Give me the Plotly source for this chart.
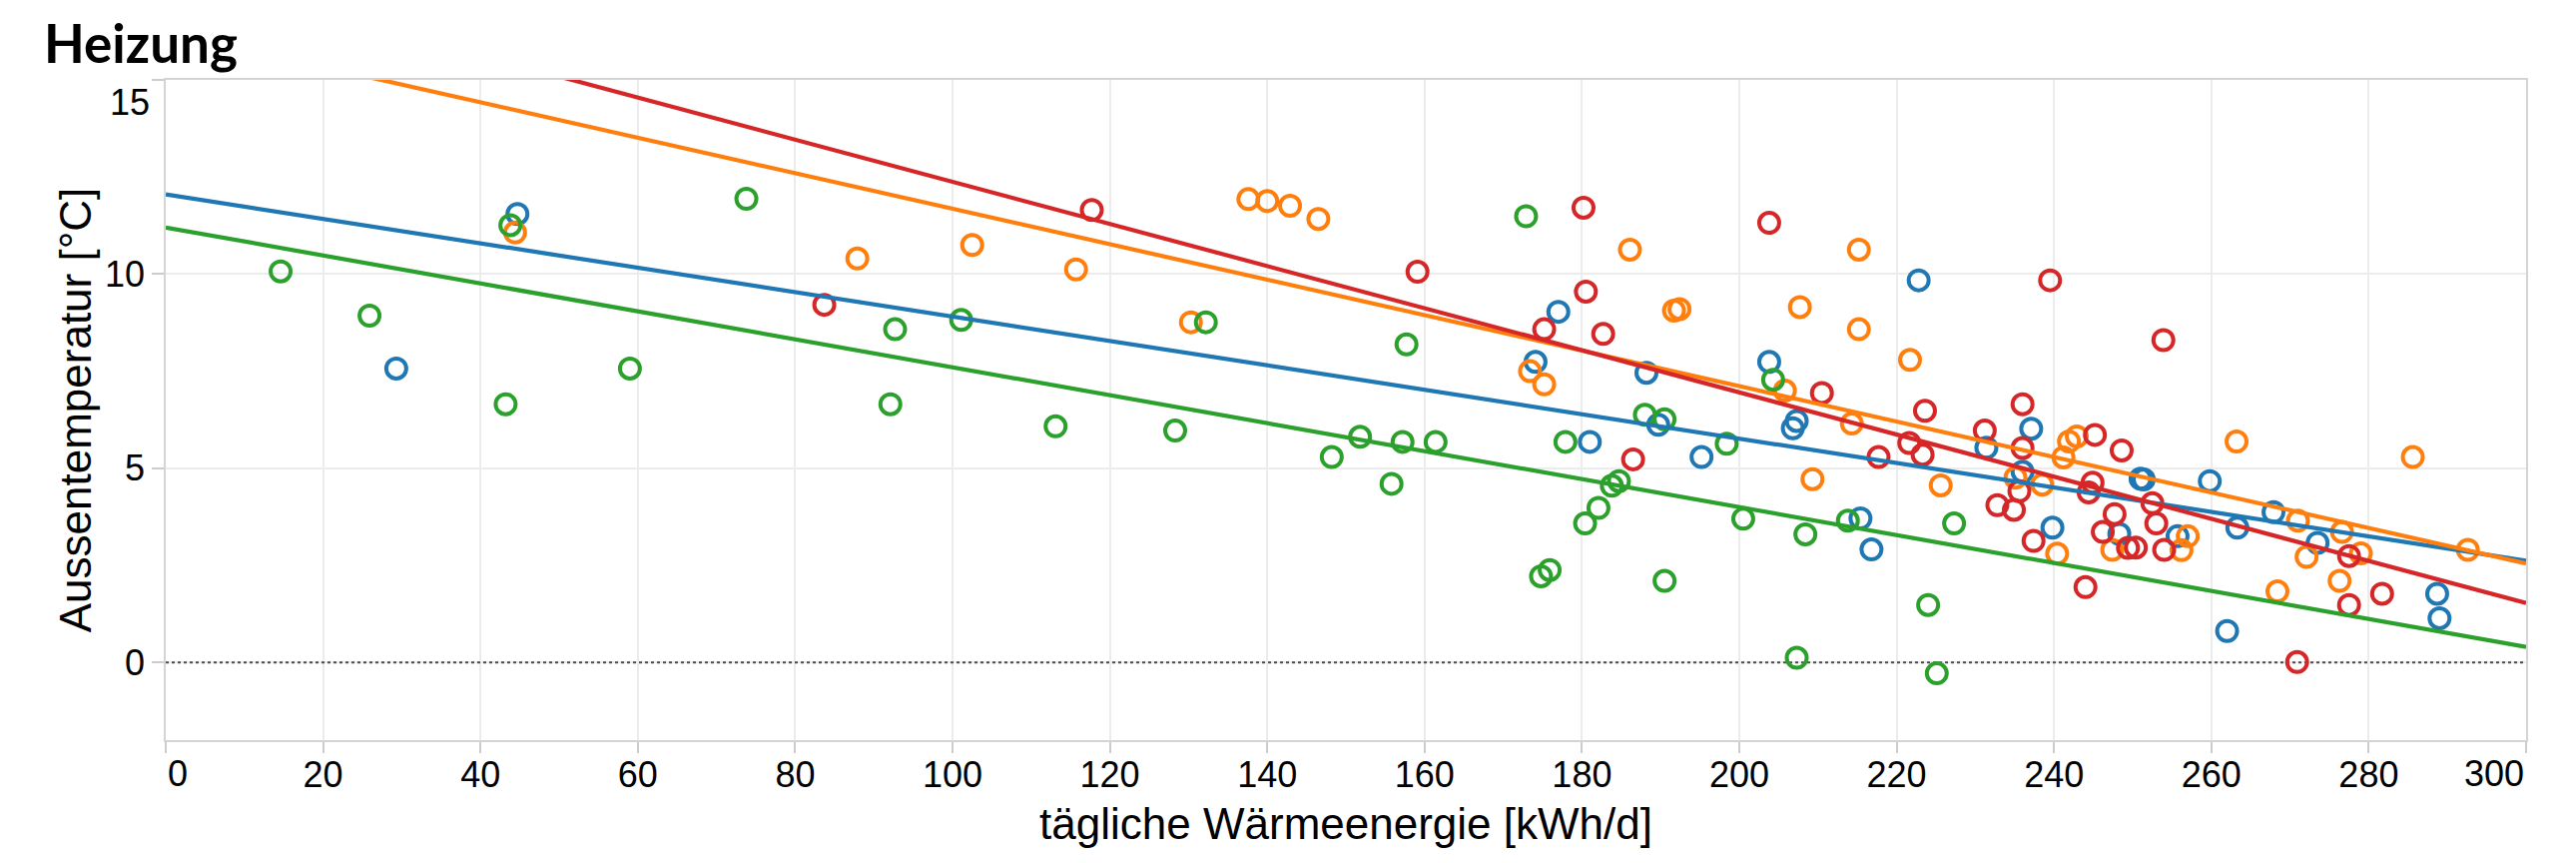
import plotly.graph_objects as go

# ---------------- data ----------------
blue_x = [29.3, 44.7, 174.1, 177.0, 181.0, 188.2, 189.7, 195.2, 203.8, 206.8, 207.3, 215.4, 216.8,
          222.8, 231.4, 236.0, 237.1, 239.8, 248.3, 251.0, 251.4, 255.7, 259.8, 262.0, 263.3, 267.9,
          273.5, 288.7, 289.0]
blue_y = [7.57, 11.55, 7.74, 9.03, 5.68, 7.46, 6.12, 5.29, 7.74, 6.03, 6.22, 3.71, 2.91,
          9.84, 5.53, 4.91, 6.02, 3.47, 3.31, 4.73, 4.71, 3.25, 4.67, 0.81, 3.47, 3.87,
          3.08, 1.77, 1.14]

orange_x = [44.4, 87.9, 102.5, 115.7, 130.3, 137.6, 140.0, 142.9, 146.5, 173.4, 175.2, 186.1, 191.7,
            192.4, 205.8, 207.7, 209.3, 214.3, 215.2, 215.2, 221.7, 225.6, 235.1, 238.5, 240.4, 241.2,
            241.9, 242.9, 247.4, 256.2, 257.0, 263.2, 268.4, 271.0, 272.1, 276.3, 276.6, 279.0, 285.6,
            292.6]
orange_y = [11.07, 10.40, 10.75, 10.12, 8.76, 11.93, 11.88, 11.76, 11.42, 7.50, 7.16, 10.63, 9.06,
            9.10, 7.00, 9.15, 4.72, 6.15, 10.63, 8.58, 7.79, 4.56, 4.76, 4.58, 2.80, 5.28,
            5.69, 5.82, 2.90, 2.89, 3.25, 5.69, 1.83, 3.65, 2.72, 2.10, 3.36, 2.81, 5.29,
            2.90]

green_x = [14.6, 25.9, 43.8, 43.2, 59.0, 73.8, 92.7, 92.1, 101.1, 113.1, 128.3, 132.2, 148.2, 151.8,
           155.8, 157.2, 157.7, 161.4, 172.9, 174.8, 175.9, 177.9, 180.4, 182.1, 183.8, 184.7, 188.0,
           190.5, 190.5, 198.4, 200.5, 204.3, 207.3, 208.4, 213.8, 224.0, 225.1, 227.3]
green_y = [10.07, 8.93, 11.26, 6.65, 7.57, 11.94, 8.58, 6.65, 8.82, 6.08, 5.97, 8.76, 5.29, 5.81,
           4.60, 5.68, 8.19, 5.68, 11.49, 2.22, 2.38, 5.68, 3.58, 3.98, 4.55, 4.67, 6.38,
           6.26, 2.10, 5.63, 3.70, 7.28, 0.12, 3.30, 3.65, 1.48, -0.28, 3.58]

red_x = [83.7, 117.7, 159.1, 175.2, 180.2, 180.5, 182.7, 186.5, 203.8, 210.5, 217.7, 221.6, 223.3,
         223.6, 231.2, 232.8, 234.9, 235.6, 236.0, 236.0, 237.4, 239.5, 244.0, 244.4, 244.9, 245.2,
         246.2, 247.7, 248.6, 249.4, 250.4, 252.5, 253.0, 253.9, 254.0, 270.9, 277.5, 277.5, 281.7]
red_y = [9.21, 11.65, 10.06, 8.58, 11.71, 9.55, 8.46, 5.23, 11.32, 6.94, 5.29, 5.65, 5.35,
         6.48, 5.97, 4.05, 3.93, 4.41, 5.52, 6.65, 3.13, 9.84, 1.94, 4.38, 4.63, 5.86,
         3.36, 3.82, 5.46, 2.95, 2.96, 4.10, 3.58, 8.30, 2.90, 0.01, 2.74, 1.48, 1.77]

# regression lines (end values)
fit_x = [0, 300]
blue_fit = [12.05, 2.62]
orange_fit = [16.25, 2.55]
green_fit = [11.2, 0.40]
red_fit = [17.8, 1.53]

x_ticks = list(range(0, 301, 20))
y_ticks = [0, 5, 10, 15]

title_text = "Heizung"
x_title = "tägliche Wärmeenergie [kWh/d]"
y_title = "Aussentemperatur [°C]"

# ---------------- style ----------------
C_BLUE, C_ORANGE, C_GREEN, C_RED = "#1f77b4", "#ff7f0e", "#2ca02c", "#d62728"
FONT = "Liberation Sans, Arial, sans-serif"
W, H = 2572, 856   # page body has an 8px margin inside the 2580x864 window

fig = go.Figure()

series = [
    (blue_x, blue_y, blue_fit, C_BLUE),
    (orange_x, orange_y, orange_fit, C_ORANGE),
    (green_x, green_y, green_fit, C_GREEN),
    (red_x, red_y, red_fit, C_RED),
]

for xs, ys, fit, col in series:
    fig.add_trace(go.Scatter(
        x=xs, y=ys, mode="markers", cliponaxis=False,
        marker=dict(symbol="circle-open", size=20, color=col, line=dict(width=4, color=col)),
        showlegend=False, hoverinfo="x+y"))

for xs, ys, fit, col in series:
    fig.add_trace(go.Scatter(
        x=fit_x, y=fit, mode="lines",
        line=dict(color=col, width=4.2),
        showlegend=False, hoverinfo="skip"))

# dashed zero rule
fig.add_shape(type="line", xref="x", yref="y", x0=0, x1=300, y0=0, y1=0,
              line=dict(color="#4a4a4a", width=2.2, dash="3px,3px"), layer="between")

tick_font = dict(family=FONT, size=36, color="#000000")

x_text = [str(v) if v not in (0, 300) else "" for v in x_ticks]
y_text = [str(v) if v != 15 else "" for v in y_ticks]

fig.update_xaxes(
    range=[0, 300], tickvals=x_ticks, ticktext=x_text, ticks="outside", ticklen=11,
    tickcolor="#cccccc", tickwidth=1.5, showgrid=True, gridcolor="#ececec", gridwidth=1.5,
    showline=True, linecolor="#d4d4d4", linewidth=1.5, mirror=True, zeroline=False,
    tickfont=tick_font, automargin=False, ticklabelstandoff=-9,
    title=dict(text=x_title, font=dict(family=FONT, size=44, color="#000"), standoff=14))
fig.update_yaxes(
    range=[-2, 15], tickvals=y_ticks, ticktext=y_text, ticks="outside", ticklen=12,
    tickcolor="#cccccc", tickwidth=1.5, showgrid=True, gridcolor="#ececec", gridwidth=1.5,
    showline=True, linecolor="#d4d4d4", linewidth=1.5, mirror=True, zeroline=False,
    tickfont=tick_font, automargin=False,
    title=dict(text=y_title, font=dict(family=FONT, size=44, color="#000"), standoff=0))

# flush end labels (as in the reference)
fig.add_annotation(x=0, y=0, xref="x", yref="paper", text="0", showarrow=False,
                   xanchor="left", yanchor="top", yshift=-11, font=tick_font)
fig.add_annotation(x=300, y=0, xref="x", yref="paper", text="300", showarrow=False,
                   xanchor="right", yanchor="top", yshift=-11, font=tick_font)
fig.add_annotation(x=0, y=15, xref="paper", yref="y", text="15", showarrow=False,
                   xanchor="right", yanchor="top", xshift=-14, font=tick_font)

fig.update_layout(
    width=W, height=H,
    margin=dict(l=158, r=50, t=72, b=123, autoexpand=False),
    paper_bgcolor="white", plot_bgcolor="white",
    title=dict(text=title_text, x=36 / W, xref="container", xanchor="left",
               y=1 - 36 / H, yref="container", yanchor="middle", automargin=False,
               font=dict(family="Lato, sans-serif", size=53, color="#000", weight="bold")),
)

fig.write_html("out.html")
